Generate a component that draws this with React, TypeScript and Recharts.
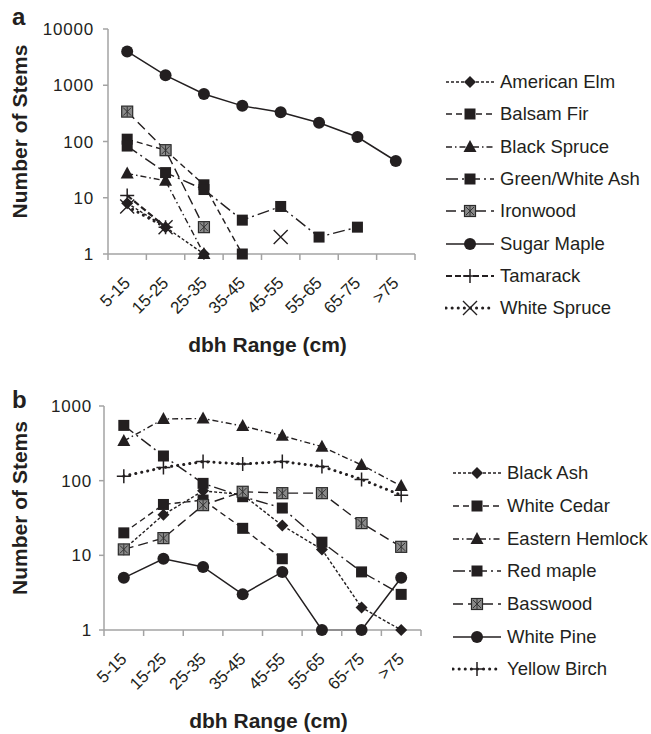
import React from 'react'
import { LineChart, Line, XAxis, YAxis, Legend } from 'recharts'

const FONT = "'Liberation Sans', Arial, Helvetica, sans-serif"
const INK = '#231f20'
const AXIS = '#a3a3a3'

const categories = ['5-15', '15-25', '25-35', '35-45', '45-55', '55-65', '65-75', '>75']

// panel a
const americanElm = [8, 3, 1, null, null, null, null, null]
const balsamFir = [110, 70, 17, 1, null, null, null, null]
const blackSpruce = [27, 20, 1, null, null, null, null, null]
const greenWhiteAsh = [83, 28, 14, 4, 7, 2, 3, null]
const ironwood = [340, 70, 3, null, null, null, null, null]
const sugarMaple = [4000, 1500, 700, 430, 330, 215, 120, 45]
const tamarack = [11, 3, null, null, null, null, null, null]
const whiteSpruce = [7, 3, null, null, 2, null, null, null]

// panel b
const blackAsh = [12, 35, 73, 65, 25, 12, 2, 1]
const whiteCedar = [20, 48, 55, 23, 9, null, null, null]
const easternHemlock = [340, 670, 680, 540, 400, 285, 162, 85]
const redMaple = [550, 214, 92, 61, 43, 15, 6, 3]
const basswood = [12, 17, 47, 71, 68, 68, 27, 13]
const whitePine = [5, 9, 7, 3, 6, 1, 1, 5]
const yellowBirch = [115, 150, 180, 167, 180, 155, 104, 64]

const ticksA = [1, 10, 100, 1000, 10000]
const ticksB = [1, 10, 100, 1000]

type Shape = 'diamond' | 'square' | 'triangle' | 'graySquare' | 'circle' | 'plus' | 'cross'

interface Series {
  key: string
  name: string
  values: (number | null)[]
  shape: Shape
  dash?: string
  width?: number
  cap?: 'round' | 'butt'
}

const styles = {
  shortDash: { dash: '3 2', width: 1.4 },
  dash: { dash: '6 4', width: 1.4 },
  dashDot: { dash: '6 3 1.5 3', width: 1.4 },
  longDashDot: { dash: '12 4 2 4', width: 1.4 },
  longDash: { dash: '10 5', width: 1.4 },
  solid: { dash: undefined, width: 1.5 },
  boldDash: { dash: '6 3', width: 2.2 },
  dotted: { dash: '0.1 6', width: 3, cap: 'round' as const },
}

const seriesA: Series[] = [
  { key: 'americanElm', name: 'American Elm', values: americanElm, shape: 'diamond', ...styles.shortDash },
  { key: 'balsamFir', name: 'Balsam Fir', values: balsamFir, shape: 'square', ...styles.dash },
  { key: 'blackSpruce', name: 'Black Spruce', values: blackSpruce, shape: 'triangle', ...styles.dashDot },
  { key: 'greenWhiteAsh', name: 'Green/White Ash', values: greenWhiteAsh, shape: 'square', ...styles.longDashDot },
  { key: 'ironwood', name: 'Ironwood', values: ironwood, shape: 'graySquare', ...styles.longDash },
  { key: 'sugarMaple', name: 'Sugar Maple', values: sugarMaple, shape: 'circle', ...styles.solid },
  { key: 'tamarack', name: 'Tamarack', values: tamarack, shape: 'plus', ...styles.boldDash },
  { key: 'whiteSpruce', name: 'White Spruce', values: whiteSpruce, shape: 'cross', ...styles.dotted },
]

const seriesB: Series[] = [
  { key: 'blackAsh', name: 'Black Ash', values: blackAsh, shape: 'diamond', ...styles.shortDash },
  { key: 'whiteCedar', name: 'White Cedar', values: whiteCedar, shape: 'square', ...styles.dash },
  { key: 'easternHemlock', name: 'Eastern Hemlock', values: easternHemlock, shape: 'triangle', ...styles.dashDot },
  { key: 'redMaple', name: 'Red maple', values: redMaple, shape: 'square', ...styles.longDashDot },
  { key: 'basswood', name: 'Basswood', values: basswood, shape: 'graySquare', ...styles.longDash },
  { key: 'whitePine', name: 'White Pine', values: whitePine, shape: 'circle', ...styles.solid },
  { key: 'yellowBirch', name: 'Yellow Birch', values: yellowBirch, shape: 'plus', ...styles.dotted },
]

function buildRows(series: Series[]) {
  return categories.map((label, i) => {
    const row: Record<string, number | string | null> = { pos: i + 0.5, label }
    series.forEach((s) => {
      row[s.key] = s.values[i]
    })
    return row
  })
}

// label ticks at the category centres, short tick marks on the boundaries
const xTicks = categories.flatMap((_, i) => [i, i + 0.5]).concat(categories.length)

function Marker({ shape, cx, cy }: { shape: Shape; cx: number; cy: number }) {
  switch (shape) {
    case 'circle':
      return <circle cx={cx} cy={cy} r={6} fill={INK} />
    case 'square':
      return <rect x={cx - 5.5} y={cy - 5.5} width={11} height={11} fill={INK} />
    case 'graySquare':
      return (
        <g>
          <rect x={cx - 5.5} y={cy - 5.5} width={11} height={11} fill="#8a8a8a" stroke="#2a2a2a" strokeWidth={1.2} />
          <path
            d={`M${cx - 4} ${cy - 4}L${cx + 4} ${cy + 4}M${cx + 4} ${cy - 4}L${cx - 4} ${cy + 4}M${cx} ${cy - 5}V${cy + 5}`}
            stroke="#333"
            strokeWidth={1}
          />
        </g>
      )
    case 'triangle':
      return <polygon points={`${cx},${cy - 7} ${cx - 6.5},${cy + 5} ${cx + 6.5},${cy + 5}`} fill={INK} />
    case 'diamond':
      return <polygon points={`${cx},${cy - 6} ${cx + 6},${cy} ${cx},${cy + 6} ${cx - 6},${cy}`} fill={INK} />
    case 'plus':
      return <path d={`M${cx - 7} ${cy}H${cx + 7}M${cx} ${cy - 7}V${cy + 7}`} stroke={INK} strokeWidth={1.5} />
    case 'cross':
      return (
        <path
          d={`M${cx - 7} ${cy - 7}L${cx + 7} ${cy + 7}M${cx + 7} ${cy - 7}L${cx - 7} ${cy + 7}`}
          stroke={INK}
          strokeWidth={1.4}
        />
      )
  }
  return null
}

function DbhTick(props: any) {
  const { x, y, payload } = props
  const v = payload.value as number
  // y is axis + tickSize (tickMargin 0)
  if (Number.isInteger(v)) {
    return <line x1={x} x2={x} y1={y - 6} y2={y} stroke={AXIS} strokeWidth={1.5} />
  }
  const label = categories[Math.floor(v)]
  return (
    <text
      x={x + 4}
      y={y + 24}
      transform={`rotate(-45, ${x + 4}, ${y + 24})`}
      textAnchor="end"
      fontFamily={FONT}
      fontSize={17}
      fill={INK}
    >
      {label}
    </text>
  )
}

function makeLegend(series: Series[], rowH: number) {
  return () => (
    <div style={{ fontFamily: FONT, fontSize: 18.5, color: INK }}>
      {series.map((s) => (
        <div key={s.key} style={{ display: 'flex', alignItems: 'center', height: rowH }}>
          <svg width={50} height={20} style={{ flex: 'none' }}>
            <line
              x1={1}
              x2={49}
              y1={10}
              y2={10}
              stroke={INK}
              strokeWidth={s.width}
              strokeDasharray={s.dash}
              strokeLinecap={s.cap ?? 'butt'}
            />
            <Marker shape={s.shape} cx={25} cy={10} />
          </svg>
          <span style={{ marginLeft: 5, whiteSpace: 'nowrap' }}>{s.name}</span>
        </div>
      ))}
    </div>
  )
}

interface PanelProps {
  series: Series[]
  yTicks: number[]
  top: number
  height: number
  margin: { top: number; right: number; bottom: number; left: number }
  tickMargin: number
  legendPos: { left: number; top: number; rowH: number }
}

function Panel({ series, yTicks, top, height, margin, tickMargin, legendPos }: PanelProps) {
  const rows = buildRows(series)
  return (
    <div style={{ position: 'absolute', left: 0, top, width: 651, height }}>
      <LineChart width={651} height={height} data={rows} margin={margin}>
        <XAxis
          dataKey="pos"
          type="number"
          domain={[0, categories.length]}
          ticks={xTicks}
          interval={0}
          tickSize={6}
          tickMargin={0}
          tickLine={false}
          tick={<DbhTick />}
          axisLine={{ stroke: AXIS, strokeWidth: 1.5 }}
          height={100}
          label={{
            content: (p: any) => {
              const vb = p.viewBox
              return (
                <text
                  x={vb.x + vb.width / 2 + 6}
                  y={vb.y + 98}
                  textAnchor="middle"
                  fontFamily={FONT}
                  fontWeight="bold"
                  fontSize={21}
                  fill={INK}
                >
                  dbh Range (cm)
                </text>
              )
            },
          }}
        />
        <YAxis
          scale="log"
          type="number"
          domain={[yTicks[0], yTicks[yTicks.length - 1]]}
          ticks={yTicks}
          interval={0}
          width={96}
          tickSize={5}
          tickMargin={tickMargin}
          tick={{ fontFamily: FONT, fontSize: 17, fill: INK, letterSpacing: 0.8 }}
          tickLine={{ stroke: AXIS, strokeWidth: 1.5 }}
          axisLine={{ stroke: AXIS, strokeWidth: 1.5 }}
          label={{
            content: (p: any) => {
              const vb = p.viewBox
              const cy = vb.y + vb.height / 2 - 10
              return (
                <text
                  x={27}
                  y={cy}
                  transform={`rotate(-90, 27, ${cy})`}
                  textAnchor="middle"
                  fontFamily={FONT}
                  fontWeight="bold"
                  fontSize={21}
                  fill={INK}
                >
                  Number of Stems
                </text>
              )
            },
          }}
        />
        <Legend
          layout="vertical"
          align="center"
          verticalAlign="middle"
          content={makeLegend(series, legendPos.rowH)}
          wrapperStyle={{ left: legendPos.left, top: legendPos.top, width: 200, height: 'auto' }}
        />
        {series.map((s) => (
          <Line
            key={s.key}
            dataKey={s.key}
            name={s.name}
            stroke={INK}
            strokeWidth={s.width}
            strokeDasharray={s.dash}
            strokeLinecap={s.cap ?? 'butt'}
            connectNulls={false}
            isAnimationActive={false}
            activeDot={false}
            dot={(p: any) => {
              if (p.value == null || !Number.isFinite(p.cx) || !Number.isFinite(p.cy)) {
                return <g key={p.index} />
              }
              return (
                <g key={p.index}>
                  <Marker shape={s.shape} cx={p.cx} cy={p.cy} />
                </g>
              )
            }}
          />
        ))}
      </LineChart>
    </div>
  )
}

export default function App() {
  return (
    <div style={{ position: 'absolute', left: 0, top: 0, width: 651, height: 734, background: '#fff' }}>
      <Panel
        series={seriesA}
        yTicks={ticksA}
        top={0}
        height={370}
        margin={{ top: 29, right: 236, bottom: 16, left: 12 }}
        tickMargin={9}
        legendPos={{ left: 445, top: 66, rowH: 32.3 }}
      />
      <Panel
        series={seriesB}
        yTicks={ticksB}
        top={370}
        height={364}
        margin={{ top: 36, right: 230, bottom: 4, left: 8 }}
        tickMargin={7}
        legendPos={{ left: 452, top: 87, rowH: 32.7 }}
      />
      <svg
        width={651}
        height={734}
        style={{ position: 'absolute', left: 0, top: 0, pointerEvents: 'none' }}
      >
        <text x={12} y={25} fontFamily={FONT} fontWeight="bold" fontSize={24} fill={INK}>
          a
        </text>
        <text x={12} y={408} fontFamily={FONT} fontWeight="bold" fontSize={24} fill={INK}>
          b
        </text>
      </svg>
    </div>
  )
}
